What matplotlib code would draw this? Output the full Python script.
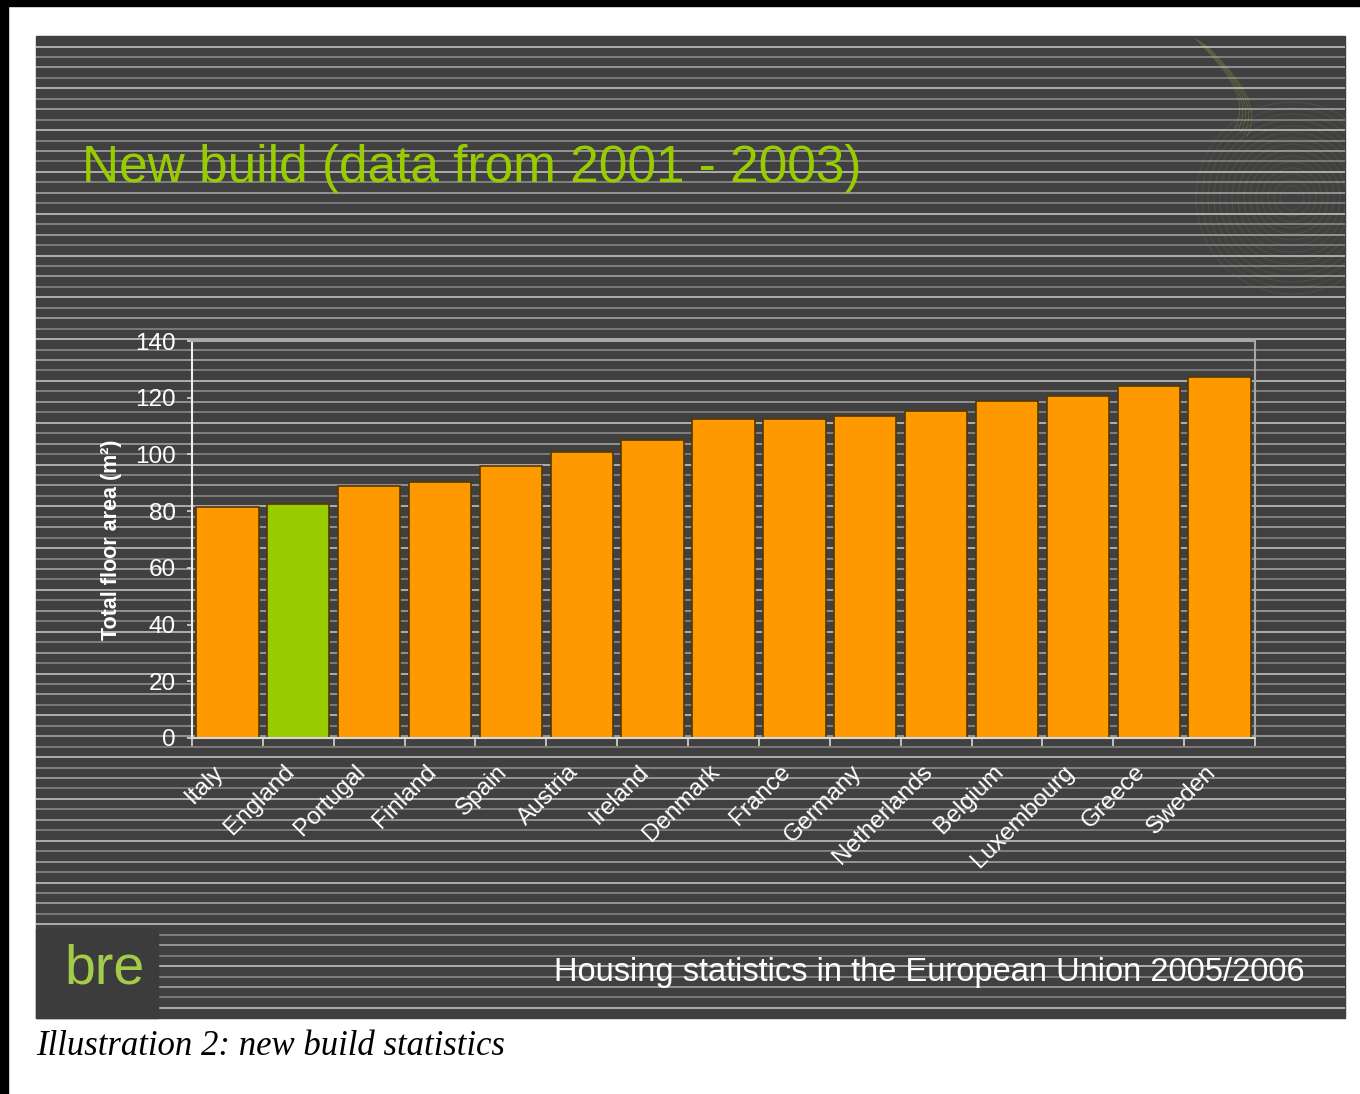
import numpy as np
import matplotlib
matplotlib.use("Agg")
import matplotlib.pyplot as plt
import matplotlib.transforms as mtransforms
from matplotlib.patches import Rectangle, Circle

# data
countries = ["Italy", "England", "Portugal", "Finland", "Spain", "Austria", "Ireland",
             "Denmark", "France", "Germany", "Netherlands", "Belgium", "Luxembourg",
             "Greece", "Sweden"]
floor_area = [81.3, 82.5, 88.7, 90.3, 95.8, 101.0, 105.0,
              112.6, 112.6, 113.5, 115.4, 118.8, 120.5, 124.2, 127.4]
highlight = "England"
y_ticks = [0, 20, 40, 60, 80, 100, 120, 140]

title = "New build (data from 2001 - 2003)"
y_label = "Total floor area (m\u00b2)"
footer = "Housing statistics in the European Union 2005/2006"
caption = "Illustration 2: new build statistics"

ORANGE = "#FF9900"
GREEN = "#99CC00"
PANEL = "#404040"

plt.rcParams["font.family"] = ["Liberation Sans", "DejaVu Sans"]

W, H = 1360, 1094
fig = plt.figure(figsize=(W / 100, H / 100), dpi=100, facecolor="white")

# background slide drawn in pixel coordinates
bg = fig.add_axes([0, 0, 1, 1], zorder=0)
bg.set_xlim(0, W)
bg.set_ylim(H, 0)
bg.axis("off")

bg.add_patch(Rectangle((0, 0), W, 6, color="black"))
bg.add_patch(Rectangle((0, 0), 8, H, color="black"))
panel = Rectangle((36, 36), 1309, 982, color=PANEL)
bg.add_patch(panel)

# faint swirl decoration top right
for r in np.arange(12, 100, 6):
    c = Circle((1292, 198), r, fill=False, color="#8a9e48", lw=0.7, alpha=0.18)
    bg.add_patch(c)
    c.set_clip_path(panel)
t = np.linspace(0, 1, 100)
for k in range(5):
    xs = 1195 + 55 * np.sin(t * np.pi / 2) - 15 * t ** 3 + 3 * k
    ys = 38 + 90 * t + 2 * k
    ln, = bg.plot(xs, ys, color="#8fb03a", lw=0.8, alpha=0.25)
    ln.set_clip_path(panel)

# horizontal stripes
stripe_y = np.arange(46.5, 1016, 10.45)
alphas = [0.85, 0.5, 0.65, 0.45]
for i, y in enumerate(stripe_y):
    bg.plot([36, 1345], [y, y], color="#c0c0c0", lw=1.4, alpha=alphas[i % 4],
            solid_capstyle="butt")

# logo box
bg.add_patch(Rectangle((36, 929), 122, 89, color="#3c3c3c", zorder=3))
bg.text(64, 983, "bre", color="#a3cc4a", fontsize=40, va="baseline", ha="left", zorder=4)

bg.text(82, 182, title, color=GREEN, fontsize=37, va="baseline", ha="left")
bg.text(1305, 981, footer, color="white", fontsize=23.5, va="baseline", ha="right")
bg.text(112, 540, y_label, color="white", fontsize=15.5, fontweight="bold",
        rotation=90, ha="center", va="center")
bg.text(36, 1055, caption, color="black", fontsize=25, va="baseline", ha="left",
        family="Liberation Serif", style="italic")

# chart
ax = fig.add_axes([192 / W, 1 - 738 / H, 1063 / W, 397 / H], zorder=2)
ax.patch.set_alpha(0)
x = np.arange(len(countries))
colors = [GREEN if c == highlight else ORANGE for c in countries]
ax.bar(x, floor_area, width=0.88, color=colors, edgecolor="#553800", linewidth=1.2)

ax.set_xlim(-0.5, len(countries) - 0.5)
ax.set_ylim(0, 140)
ax.set_yticks(y_ticks)
ax.tick_params(axis="y", colors="#d8d8d8", labelcolor="white", labelsize=17.5,
               length=3.6, width=1.2, pad=8)

ax.set_xticks(x)
ax.set_xticklabels(countries, rotation=45, ha="right", va="center",
                   rotation_mode="anchor", color="white", fontsize=17.5)
ax.tick_params(axis="x", which="major", length=0, pad=22)
shift = mtransforms.ScaledTranslation(-0.07, 0, fig.dpi_scale_trans)
for lbl in ax.get_xticklabels():
    lbl.set_transform(lbl.get_transform() + shift)
ax.set_xticks(np.arange(-0.5, len(countries), 1), minor=True)
ax.tick_params(axis="x", which="minor", length=6, width=1.2, colors="#d8d8d8")

ax.spines["left"].set_color("#eeeeee")
ax.spines["bottom"].set_color("#d8d8d8")
ax.spines["top"].set_color("#a8a8a8")
ax.spines["right"].set_color("#a8a8a8")
for s in ax.spines.values():
    s.set_linewidth(1.5)

fig.savefig("out.png", dpi=100, facecolor="white")
